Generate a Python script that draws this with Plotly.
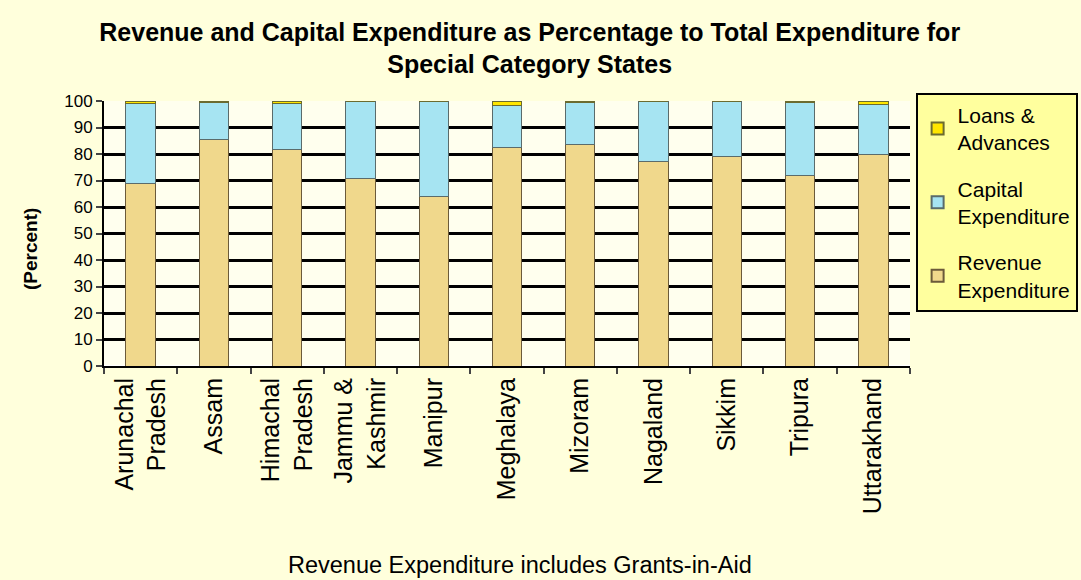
import plotly.graph_objects as go

states = ["Arunachal<br>Pradesh", "Assam", "Himachal<br>Pradesh", "Jammu &<br>Kashmir", "Manipur",
          "Meghalaya", "Mizoram", "Nagaland", "Sikkim", "Tripura", "Uttarakhand"]
revenue = [68.7, 85.4, 81.6, 70.8, 64.1, 82.4, 83.5, 77.2, 79.1, 71.9, 79.8]
capital = [30.4, 14.2, 17.5, 29.2, 35.9, 16.0, 16.1, 22.8, 20.9, 27.5, 18.8]
loans = [0.9, 0.4, 0.9, 0.0, 0.0, 1.6, 0.4, 0.0, 0.0, 0.6, 1.4]

font = "Liberation Sans, Arial, sans-serif"

fig = go.Figure()
fig.add_trace(go.Bar(x=states, y=revenue, name="Revenue<br>Expenditure", legendgroup="r", legendrank=3,
                     marker=dict(color="#F0D88C", line=dict(color="#6b5a3a", width=1))))
fig.add_trace(go.Bar(x=states, y=capital, name="Capital<br>Expenditure", legendgroup="c", legendrank=2,
                     marker=dict(color="#A6E4F2", line=dict(color="#5a6b6b", width=1))))
fig.add_trace(go.Bar(x=states, y=loans, name="Loans &<br>Advances", legendgroup="l", legendrank=1,
                     marker=dict(color="#FFE600", line=dict(color="#6b6b30", width=1))))

fig.update_layout(
    barmode="stack", bargap=0.6,
    width=1081, height=580,
    margin=dict(l=104, r=171, t=101, b=214, autoexpand=False),
    paper_bgcolor="#FFFFDC", plot_bgcolor="#FFFFEE",
    font=dict(family=font, color="black"),
    title=dict(text="<b>Revenue and Capital Expenditure as Percentage to Total Expenditure for<br>Special Category States</b>",
               x=0.49, xanchor="center", y=0.93, yanchor="top", font=dict(size=25)),
    legend=dict(xref="container", yref="container", x=0.847, y=0.84, xanchor="left", yanchor="top",
                traceorder="grouped", bgcolor="#FFFF9E", bordercolor="black", borderwidth=2,
                font=dict(size=21), itemsizing="constant", tracegroupgap=16),
    showlegend=True,
)
fig.update_yaxes(range=[0, 100], dtick=10, showgrid=True, gridcolor="black", gridwidth=2.5,
                 showline=True, linecolor="black", linewidth=2, ticks="outside", ticklen=6,
                 tickwidth=2, tickfont=dict(size=17))
fig.update_xaxes(showline=True, linecolor="black", linewidth=2, ticks="outside", tickson="boundaries",
                 ticklen=6, tickwidth=2, tickangle=-90, tickfont=dict(size=25))

fig.add_annotation(text="<b>(Percent)</b>", xref="paper", yref="paper",
                   x=-0.0918, y=0.4415, xanchor="center", yanchor="middle", textangle=-90,
                   showarrow=False, font=dict(size=19))
fig.add_annotation(text="Revenue Expenditure includes Grants-in-Aid", xref="paper", yref="paper",
                   x=0.516, y=-0.751, xanchor="center", yanchor="middle", showarrow=False,
                   font=dict(size=23.5))

fig.write_html("out.html", config={"displayModeBar": False},
               post_script="document.body.style.margin='0';")
